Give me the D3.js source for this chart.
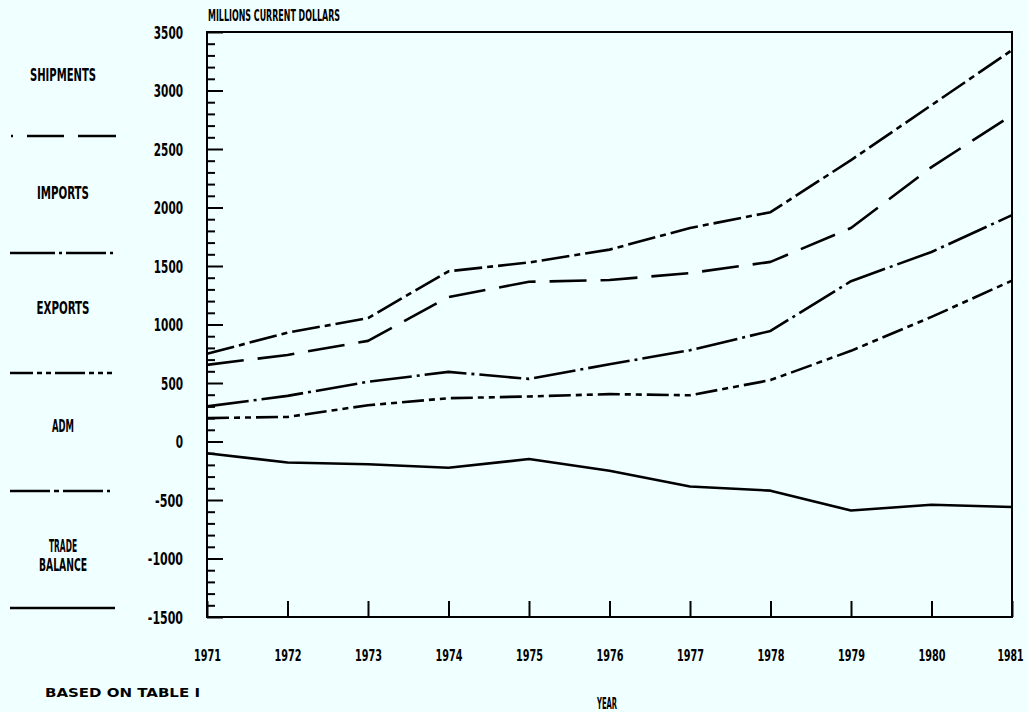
<!DOCTYPE html>
<html>
<head>
<meta charset="utf-8">
<script src="https://cdn.jsdelivr.net/npm/d3@7"></script>
<style>
  html, body { margin: 0; padding: 0; background: #f0ffff; }
  svg { display: block; }
  text { font-family: "Liberation Sans Narrow", "DejaVu Sans Condensed", "Liberation Sans", sans-serif; font-weight: bold; fill: #000; }
</style>
</head>
<body>
<svg id="chart" width="1028" height="712"></svg>
<script>
// Years on the horizontal axis
const years = [1971, 1972, 1973, 1974, 1975, 1976, 1977, 1978, 1979, 1980, 1981];

// Series, millions of current dollars
const shipments    = [655, 740, 860, 1235, 1365, 1380, 1440, 1535, 1825, 2345, 2790];
const imports      = [300, 390, 510, 595, 535, 660, 780, 945, 1370, 1620, 1935];
const exports      = [200, 210, 310, 370, 385, 405, 395, 525, 775, 1065, 1375];
const adm          = [750, 930, 1055, 1455, 1530, 1640, 1825, 1960, 2405, 2875, 3345];
const tradeBalance = [-100, -180, -195, -225, -150, -250, -385, -420, -590, -540, -560];

// Axis ticks
const yMajorTicks = [-1500, -1000, -500, 0, 500, 1000, 1500, 2000, 2500, 3000, 3500];
const yMinorTicks = d3.range(-1500, 3501, 100).filter(v => v % 500 !== 0);

// Legend entries (top to bottom)
const legendNames = [["SHIPMENTS"], ["IMPORTS"], ["EXPORTS"], ["ADM"], ["TRADE", "BALANCE"]];

const svg = d3.select("#chart");

const x = d3.scaleLinear().domain([1971, 1981]).range([207, 1012]);
const y = d3.scaleLinear().domain([-1500, 3500]).range([617, 32]);

// Integer labels with a plain hyphen for negatives
const fmt = v => (v < 0 ? "-" : "") + Math.abs(v);
// Width of a narrow plotter-style number label
const numWidth = s => s.replace("-", "").length * 7.3 + (s.startsWith("-") ? 6 : 0);

// Helper for fixed-width plotter-style labels
function label(txt, px, py, w, anchor, size) {
  const t = svg.append("text")
    .attr("x", px).attr("y", py)
    .attr("text-anchor", anchor || "start")
    .attr("font-size", size || 16)
    .text(txt);
  if (w) t.attr("textLength", w).attr("lengthAdjust", "spacingAndGlyphs");
  return t;
}

// Frame
svg.append("rect")
  .attr("x", x(1971)).attr("y", y(3500))
  .attr("width", x(1981) - x(1971)).attr("height", y(-1500) - y(3500))
  .attr("fill", "none").attr("stroke", "#000").attr("stroke-width", 2);

// Y axis: major and minor ticks pointing inward
const yMajor = svg.append("g").attr("transform", `translate(${x(1971)},0)`)
  .call(d3.axisLeft(y).tickValues(yMajorTicks).tickSize(-16).tickPadding(24).tickFormat(fmt));
yMajor.select(".domain").remove();
yMajor.selectAll("line").attr("stroke", "#000").attr("stroke-width", 2);
yMajor.selectAll("text")
  .attr("font-size", 17).attr("font-family", null).attr("fill", "#000")
  .attr("dy", "0.36em")
  .attr("text-anchor", "end")
  .attr("textLength", d => numWidth(fmt(d)))
  .attr("lengthAdjust", "spacingAndGlyphs");

const yMinor = svg.append("g").attr("transform", `translate(${x(1971)},0)`)
  .call(d3.axisLeft(y).tickValues(yMinorTicks).tickSize(-8).tickFormat(""));
yMinor.select(".domain").remove();
yMinor.selectAll("line").attr("stroke", "#000").attr("stroke-width", 2);

// X axis: ticks pointing up from the bottom frame
const xAxis = svg.append("g").attr("transform", `translate(0,${y(-1500)})`)
  .call(d3.axisBottom(x).tickValues(years).tickSize(-16).tickPadding(38).tickFormat(d3.format("d")));
xAxis.select(".domain").remove();
xAxis.selectAll("line").attr("stroke", "#000").attr("stroke-width", 2);
xAxis.selectAll("text")
  .attr("font-size", 16).attr("font-family", null).attr("fill", "#000")
  .attr("dy", "0.36em")
  .attr("textLength", 27)
  .attr("lengthAdjust", "spacingAndGlyphs");
// keep the last year label inside the page edge
xAxis.selectAll(".tick").filter(d => d === 1981).select("text")
  .attr("text-anchor", "end").attr("x", 11).attr("textLength", 26);

// Series lines
const series = [
  { values: shipments,    dash: "37,14" },
  { values: imports,      dash: "42,5,3,5" },
  { values: exports,      dash: "22,5,6,5,6,5" },
  { values: adm,          dash: "28,5,6,5" },
  { values: tradeBalance, dash: null }
];

const line = d3.line()
  .x((d, i) => x(years[i]))
  .y(d => y(d));

svg.append("g").selectAll("path")
  .data(series)
  .join("path")
  .attr("d", d => line(d.values))
  .attr("fill", "none")
  .attr("stroke", "#000")
  .attr("stroke-width", 2.6)
  .attr("stroke-linejoin", "round")
  .attr("stroke-dasharray", d => d.dash);

// Legend
const legendLabelY = [75, 193, 308, 426, 546];
const legendLabelW = [[66], [52], [53], [22], [28, 48]];
const legendLineY = [136, 253, 373, 491, 608];
const legendDash = ["2,14,37,14,38", "45,4,3,4,40,4,3,4", "23,4,5,4,5,4,30,4,5,4,5,4,5", "40,4,5,4,40,4,5", null];
const legendX1 = [11, 10, 10, 10, 10];
const legendX2 = [117, 117, 117, 110, 115];

legendNames.forEach((names, i) => {
  names.forEach((nm, j) => {
    label(nm, 63, legendLabelY[i] + j * 19 + 6, legendLabelW[i][j], "middle", 17);
  });
  svg.append("line")
    .attr("x1", legendX1[i]).attr("x2", legendX2[i])
    .attr("y1", legendLineY[i]).attr("y2", legendLineY[i])
    .attr("stroke", "#000").attr("stroke-width", 2.4)
    .attr("stroke-dasharray", legendDash[i]);
});

// Titles and notes
label("MILLIONS CURRENT DOLLARS", 208, 21, 132, "start", 15);
label("YEAR", 607, 709, 20, "middle", 15);
svg.append("text")
  .attr("x", 45).attr("y", 697)
  .attr("font-size", 13)
  .attr("font-family", "DejaVu Sans, sans-serif")
  .attr("textLength", 155).attr("lengthAdjust", "spacingAndGlyphs")
  .text("BASED ON TABLE I");
</script>
</body>
</html>
